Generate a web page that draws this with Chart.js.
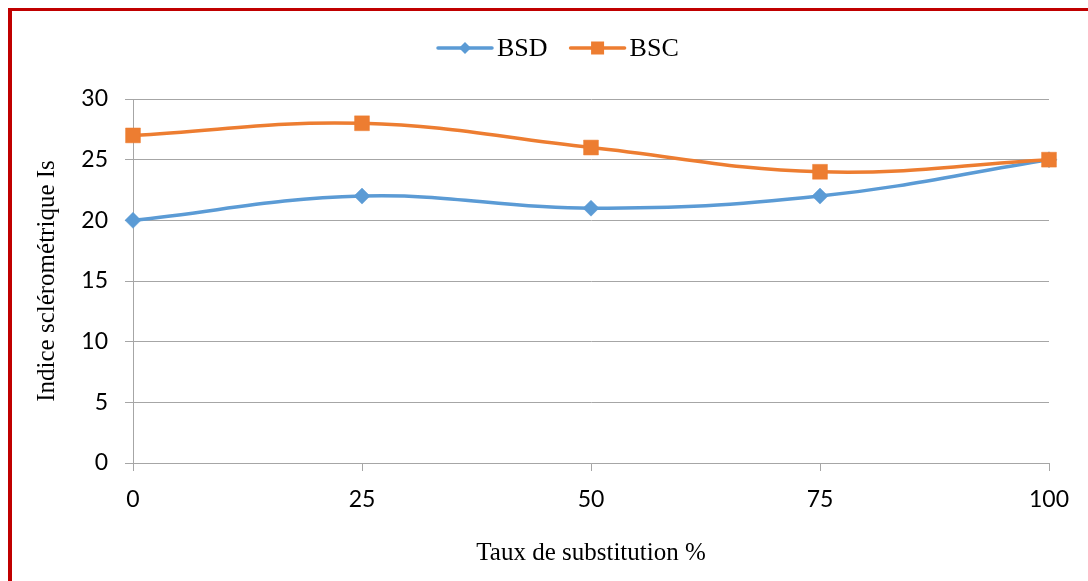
<!DOCTYPE html>
<html>
<head>
<meta charset="utf-8">
<script src="https://cdn.jsdelivr.net/npm/chart.js@4/dist/chart.umd.min.js"></script>
<style>
  html, body { margin: 0; padding: 0; background: #fff; overflow: hidden; }
  #wrap { position: relative; width: 1088px; height: 581px; }
  #frame {
    position: absolute; left: 8px; top: 8px; width: 1200px; height: 700px;
    border-top: 3px solid #c00000; border-left: 4px solid #c00000;
    pointer-events: none;
  }
</style>
</head>
<body>
<div id="wrap">
  <canvas id="chart"></canvas>
  <div id="frame"></div>
</div>
<script>
// values
const categories = ['0', '25', '50', '75', '100'];
const bsd = [20, 22, 21, 22, 25];
const bsc = [27, 28, 26, 24, 25];
const yTicks = [0, 5, 10, 15, 20, 25, 30];

const blue = '#5b9bd5';
const orange = '#ed7d31';
const gridColor = '#a6a6a6';
const tickFont = { family: 'Lato', size: 23 };
const serif = 'Liberation Serif';

// legend drawn by hand: line with marker in the middle, then the label
const lineLegend = {
  id: 'lineLegend',
  afterDraw(chart) {
    const ctx = chart.ctx;
    const y = 48;
    let x = 438;
    ctx.save();
    ctx.font = '26px "' + serif + '"';
    ctx.textBaseline = 'middle';
    chart.data.datasets.forEach(ds => {
      const lineW = 54;
      ctx.strokeStyle = ds.borderColor;
      ctx.lineWidth = 3.5;
      ctx.lineCap = 'round';
      ctx.beginPath();
      ctx.moveTo(x, y);
      ctx.lineTo(x + lineW, y);
      ctx.stroke();
      const cx = x + lineW / 2;
      ctx.fillStyle = ds.borderColor;
      ctx.beginPath();
      if (ds.pointStyle === 'rectRot') {
        ctx.moveTo(cx - 6, y);
        ctx.lineTo(cx, y - 6);
        ctx.lineTo(cx + 6, y);
        ctx.lineTo(cx, y + 6);
        ctx.closePath();
      } else {
        ctx.rect(cx - 6.5, y - 6.5, 13, 13);
      }
      ctx.fill();
      ctx.fillStyle = '#000';
      ctx.fillText(ds.label, x + lineW + 5, y + 1);
      x += lineW + 5 + ctx.measureText(ds.label).width + 23;
    });
    ctx.restore();
  }
};

new Chart(document.getElementById('chart'), {
  type: 'line',
  data: {
    labels: categories,
    datasets: [
      {
        label: 'BSD',
        data: bsd,
        order: 1,
        borderColor: blue,
        backgroundColor: blue,
        borderWidth: 3.5,
        tension: 0.4,
        pointStyle: 'rectRot',
        pointRadius: 8,
        pointBorderWidth: 0.5,
        pointBackgroundColor: blue
      },
      {
        label: 'BSC',
        data: bsc,
        order: 0,
        borderColor: orange,
        backgroundColor: orange,
        borderWidth: 3.5,
        tension: 0.4,
        pointStyle: 'rect',
        pointRadius: 10.5,
        pointBorderWidth: 0.5,
        pointBackgroundColor: orange
      }
    ]
  },
  options: {
    responsive: true,
    maintainAspectRatio: false,
    animation: false,
    layout: { padding: { left: 0, right: 39, top: 99, bottom: 0 } },
    plugins: {
      legend: { display: false },
      tooltip: { enabled: false }
    },
    scales: {
      x: {
        offset: false,
        grid: {
          offset: false,
          drawOnChartArea: false,
          drawTicks: true,
          tickLength: 8,
          color: gridColor
        },
        border: { color: gridColor },
        ticks: { font: tickFont, color: '#000', padding: 15, maxRotation: 0 },
        title: {
          display: true,
          text: 'Taux de substitution %',
          font: { family: serif, size: 25 },
          color: '#000',
          padding: { top: 0, bottom: 13 }
        },
        afterFit(scale) { scale.height = 118; }
      },
      y: {
        min: 0,
        max: 30,
        afterBuildTicks(scale) { scale.ticks = yTicks.map(v => ({ value: v })); },
        grid: { color: gridColor, tickLength: 8 },
        border: { color: gridColor },
        ticks: { font: tickFont, color: '#000', padding: 17 },
        title: {
          display: true,
          text: 'Indice sclérométrique Is',
          font: { family: serif, size: 25 },
          color: '#000',
          padding: { top: 32, bottom: 0 }
        },
        afterFit(scale) { scale.width = 133; }
      }
    }
  },
  plugins: [lineLegend]
});
</script>
</body>
</html>
